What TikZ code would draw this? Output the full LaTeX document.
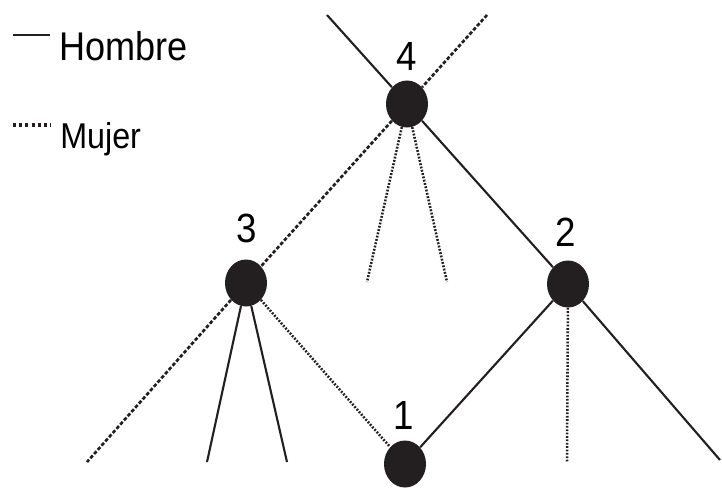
\documentclass[tikz,border=0pt]{standalone}
\usepackage{fontspec}
\usepackage{tikz}
\usetikzlibrary{shapes.geometric}

\newfontfamily\labelfont{Liberation Sans}[FakeStretch=0.9]
\definecolor{ink}{HTML}{231F20}

\begin{document}
\begin{tikzpicture}[x=0.025cm,y=-0.025cm,
		person/.style={ellipse,fill=ink,inner sep=0pt,minimum width=1.05cm,minimum height=1.175cm},
		hombre/.style={draw=ink,line width=1.5pt},
		mujer/.style={draw=ink,line width=1.8pt,dash pattern=on 1.3pt off 1.1pt},
		mujerb/.style={draw=ink,line width=1.9pt,dash pattern=on 2.6pt off 1.4pt},
		num/.style={font=\labelfont\fontsize{29}{30}\selectfont,inner sep=0pt}]
		\useasboundingbox (0,0) rectangle (722,487);

		% legend
		\node (hl) [anchor=base west,inner sep=0pt,font=\labelfont\fontsize{28.5}{30}\selectfont] at (59,60) {Hombre};
		\node (ml) [anchor=base west,inner sep=0pt,font=\labelfont\fontsize{25.5}{27}\selectfont] at (60,148) {Mujer};
		\coordinate (hs) at (13,35);
		\coordinate (he) at (50,35);
		\coordinate (ms) at (13,125);
		\coordinate (me) at (51,125);
		\draw [hombre,line width=2pt] (hs) -- (he);
		\draw [draw=ink,line width=2.2pt,dash pattern=on 2.2pt off 2.2pt] (ms) -- (me);

		% persons
		\node (n4) [person] at (407,104) {};
		\node (n3) [person] at (246,283) {};
		\node (n2) [person] at (568,284) {};
		\node (n1) [person] at (405,464) {};

		\node (l4) [num] at (407,56) {4};
		\node (l3) [num] at (247,228) {3};
		\node (l2) [num] at (566,232) {2};
		\node (l1) [num] at (404,415) {1};

		% free ends
		\coordinate (a4) at (327,15);
		\coordinate (b4) at (487,15);
		\coordinate (c4) at (367,282);
		\coordinate (d4) at (447,282);
		\coordinate (a3) at (87,462);
		\coordinate (b3) at (207,462);
		\coordinate (c3) at (287,462);
		\coordinate (a2) at (567,462);
		\coordinate (b2) at (720,460);

		% ties
		\draw [hombre] (a4) -- (n4);
		\draw [mujerb] (b4) -- (n4);
		\draw [mujer] (n4) -- (c4);
		\draw [mujer] (n4) -- (d4);
		\draw [hombre] (n4) -- (n2);
		\draw [mujerb] (n4) -- (n3);

		\draw [mujerb] (n3) -- (a3);
		\draw [hombre] (n3) -- (b3);
		\draw [hombre] (n3) -- (c3);
		\draw [mujer] (n3) -- (n1);

		\draw [hombre] (n2) -- (n1);
		\draw [mujer] (n2) -- (a2);
		\draw [hombre] (n2) -- (b2);
	\end{tikzpicture}
\end{document}
